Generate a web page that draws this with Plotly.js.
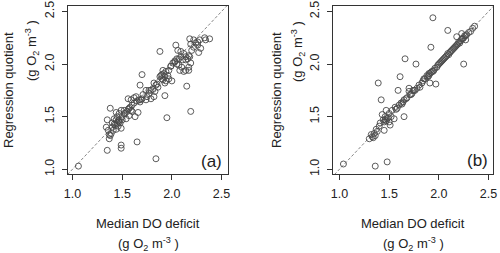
<!DOCTYPE html>
<html>
<head>
<meta charset="utf-8">
<script src="https://cdn.plot.ly/plotly-3.0.1.min.js"></script>
<style>html,body{margin:0;padding:0;background:#fff;}#chart{width:500px;height:253px;}</style>
</head>
<body>
<div id="chart"></div>
<script>
// ---- data ----
const tickVals = [1.0, 1.5, 2.0, 2.5];
const tickText = ['1.0', '1.5', '2.0', '2.5'];
const panelLabels = ['(a)', '(b)'];
const xTitle = 'Median DO deficit';
const yTitle = 'Regression quotient';
const unitText = '(g O<sub>2</sub> m<sup>-3</sup> )';

// panel (a)
const aX = [1.06,1.35,1.49,1.49,1.65,1.84,1.95,2.19,2.15,1.88,2.04,1.70,1.38,1.93,
  1.37,1.38,1.39,1.34,1.35,1.40,1.43,1.44,1.45,1.47,1.44,1.49,1.52,1.53,1.56,1.59,1.60,1.63,1.66,1.57,1.54,1.50,1.48,1.46,1.41,1.40,1.42,1.49,1.44,1.37,1.47,1.50,1.52,1.55,1.42,1.36,
  1.59,1.62,1.67,1.68,1.70,1.74,1.75,1.77,1.77,1.79,1.81,1.83,1.84,1.86,1.82,1.79,1.71,1.74,1.68,1.64,1.56,1.82,1.85,1.65,1.69,
  1.91,1.92,1.94,1.89,1.90,1.91,1.93,1.96,1.97,2.00,1.94,1.93,1.97,1.99,2.01,2.03,2.05,2.07,2.10,2.08,2.12,2.14,2.17,2.19,2.17,2.14,2.11,2.09,2.07,2.06,2.09,2.12,2.14,2.17,2.18,2.20,2.19,2.22,2.24,2.26,2.28,2.27,2.29,2.33,2.34,2.38,2.22,2.18,2.26,2.16,
  1.62,1.60,1.58,1.57,1.46,1.45,1.47,1.99,2.03,2.05,1.88,1.90];
const aY = [1.03,1.18,1.20,1.23,1.26,1.10,1.49,1.55,1.79,2.12,2.18,1.90,1.58,1.70,
  1.29,1.32,1.34,1.40,1.47,1.44,1.42,1.47,1.50,1.53,1.54,1.56,1.56,1.53,1.57,1.56,1.55,1.50,1.54,1.51,1.48,1.47,1.44,1.41,1.37,1.40,1.48,1.39,1.38,1.33,1.45,1.50,1.53,1.55,1.43,1.37,
  1.66,1.68,1.66,1.64,1.67,1.66,1.69,1.72,1.75,1.75,1.76,1.74,1.80,1.78,1.69,1.67,1.71,1.75,1.80,1.69,1.67,1.82,1.81,1.65,1.66,
  1.94,1.91,1.93,1.89,1.86,1.85,1.88,1.89,1.86,1.84,1.84,1.82,1.94,1.98,2.01,2.03,2.00,1.99,1.97,1.94,1.93,1.94,1.94,2.01,1.97,2.04,2.04,2.07,2.05,2.13,2.12,2.10,2.07,2.08,2.07,2.13,2.19,2.16,2.20,2.18,2.23,2.11,2.15,2.25,2.23,2.24,2.23,2.24,2.21,2.05,
  1.63,1.61,1.59,1.58,1.46,1.44,1.47,1.98,2.02,2.05,1.88,1.90];

// panel (b)
const bX = [1.04,1.36,1.48,1.94,2.09,1.92,1.66,1.77,1.39,1.61,2.25,1.42,1.65,1.91,1.97,1.59,1.70,1.45,1.33,1.43,
  1.35,1.37,1.41,1.44,1.46,1.48,1.50,1.53,1.56,1.60,1.62,1.65,1.68,1.71,1.74,1.78,1.80,1.83,1.85,1.88,1.91,1.93,1.95,1.98,2.00,2.02,2.04,2.07,2.10,2.12,2.15,2.18,2.20,2.23,2.27,2.30,2.34,2.36,
  1.70,1.73,1.81,1.50,1.55,1.51,1.47,2.27,2.23,2.18,1.34,1.38,1.30,1.32,1.45,1.46,1.47,1.49,1.52,1.57,1.63,1.67,1.72,1.76,1.86,1.89,1.90,1.90,1.92,1.94,1.96,2.01,2.03,2.05,2.06,2.08,2.09,2.11,2.13,2.14,2.16,2.17,2.19,2.21,2.22,2.24,2.25,2.26,2.28,2.32,1.58,1.64,1.75,1.84,1.99,1.40,1.36];
const bY = [1.05,1.03,1.07,2.44,2.32,2.16,2.05,2.00,1.82,1.88,2.00,1.66,1.50,1.82,1.81,1.75,1.77,1.37,1.31,1.52,
  1.34,1.38,1.44,1.47,1.50,1.48,1.53,1.56,1.59,1.61,1.63,1.66,1.68,1.71,1.75,1.77,1.80,1.82,1.86,1.89,1.91,1.93,1.94,1.97,2.00,2.02,2.04,2.07,2.09,2.12,2.15,2.18,2.21,2.24,2.27,2.30,2.34,2.36,
  1.74,1.72,1.78,1.45,1.48,1.42,1.56,2.23,2.29,2.26,1.30,1.36,1.29,1.33,1.45,1.47,1.46,1.49,1.50,1.57,1.62,1.67,1.71,1.75,1.86,1.88,1.89,1.91,1.92,1.93,1.96,2.01,2.03,2.05,2.06,2.08,2.10,2.11,2.13,2.14,2.16,2.17,2.19,2.20,2.22,2.24,2.25,2.27,2.28,2.31,1.58,1.64,1.75,1.84,1.99,1.41,1.32];

const aRangeX = [0.955, 2.565];
const bRangeX = [0.935, 2.545];
const rangeY = [0.955, 2.552];

// ---- chart ----
const font = 'Liberation Sans, Arial, sans-serif';
const ink = '#333';
const markerStyle = {symbol: 'circle-open', size: 6, color: '#4a4a4a', line: {width: 0.9, color: '#4a4a4a'}};
const refLine = {color: '#777', width: 0.9, dash: '3px,2px'};

const traces = [
  {x: [0.5, 3], y: [0.5, 3], xaxis: 'x', yaxis: 'y', mode: 'lines', line: refLine, hoverinfo: 'skip'},
  {x: aX, y: aY, xaxis: 'x', yaxis: 'y', mode: 'markers', marker: markerStyle},
  {x: [0.5, 3], y: [0.5, 3], xaxis: 'x2', yaxis: 'y2', mode: 'lines', line: refLine, hoverinfo: 'skip'},
  {x: bX, y: bY, xaxis: 'x2', yaxis: 'y2', mode: 'markers', marker: markerStyle}
];

function xAxis(dom, range, anchor) {
  return {domain: dom, range: range, anchor: anchor, showgrid: false, zeroline: false,
    showline: true, mirror: true, linecolor: ink, linewidth: 1,
    ticks: 'outside', ticklen: 5, tickwidth: 1, tickcolor: ink,
    tickvals: tickVals, ticktext: tickText, ticklabelstandoff: 3,
    tickfont: {family: font, size: 12.5, color: '#222'}};
}
function yAxis(dom, range, anchor) {
  return {domain: dom, range: range, anchor: anchor, showgrid: false, zeroline: false,
    showline: true, mirror: true, linecolor: ink, linewidth: 1,
    ticks: 'outside', ticklen: 5, tickwidth: 1, tickcolor: ink,
    tickvals: tickVals, ticktext: tickText, tickangle: -90, ticklabelstandoff: 3,
    tickfont: {family: font, size: 12.5, color: '#222'}};
}

const W = 500, H = 253;
const yDom = [(H - 174) / H, (H - 6) / H];
const aDom = [68 / W, 228 / W];
const bDom = [333 / W, 493 / W];

function ann(text, px, py, size, angle) {
  return {text: text, xref: 'paper', yref: 'paper', x: px / W, y: 1 - py / H,
    xanchor: 'center', yanchor: 'middle', showarrow: false, textangle: angle || 0,
    font: {family: font, size: size, color: '#222'}};
}

const layout = {
  width: W, height: H, margin: {l: 0, r: 0, t: 0, b: 0},
  paper_bgcolor: '#fff', plot_bgcolor: '#fff', showlegend: false,
  xaxis: xAxis(aDom, aRangeX, 'y'),
  yaxis: yAxis(yDom, rangeY, 'x'),
  xaxis2: xAxis(bDom, bRangeX, 'y2'),
  yaxis2: yAxis(yDom, rangeY, 'x2'),
  annotations: [
    ann(xTitle, 148, 223, 13), ann(unitText, 148, 244, 13),
    ann(xTitle, 413, 223, 13), ann(unitText, 413, 244, 13),
    ann(yTitle, 9, 90, 13, -90), ann(unitText, 32, 51, 13, -90),
    ann(yTitle, 277, 90, 13, -90), ann(unitText, 298, 52, 13, -90),
    ann(panelLabels[0], 211, 161, 17), ann(panelLabels[1], 477, 160, 17)
  ]
};

Plotly.newPlot('chart', traces, layout, {staticPlot: true, displayModeBar: false});
</script>
</body>
</html>
